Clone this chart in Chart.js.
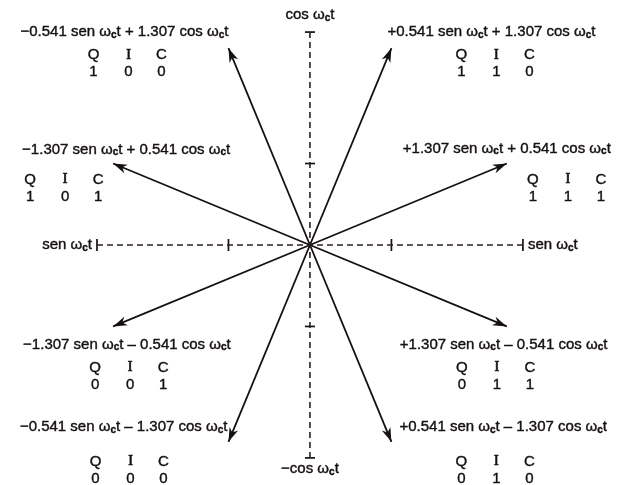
<!DOCTYPE html>
<html>
<head>
<meta charset="utf-8">
<script src="https://cdn.jsdelivr.net/npm/chart.js@4/dist/chart.umd.min.js"></script>
<style>
  html, body { margin: 0; padding: 0; background: #fff; }
  #wrap { width: 619px; height: 485px; }
</style>
</head>
<body>
<div id="wrap"><canvas id="phasorChart" width="619" height="485"></canvas></div>
<script>
// 8-PSK phasor values (sen = x, cos = y)
const senValues = [-0.541, 0.541, -1.307, 1.307, -1.307, 1.307, -0.541, 0.541];
const cosValues = [1.307, 1.307, 0.541, 0.541, -0.541, -0.541, -1.307, -1.307];
const qicCodes = ['100', '110', '101', '111', '001', '011', '000', '010'];
const phasorLabels = [
    '\u22120.541 sen \u03c9{c}t + 1.307 cos \u03c9{c}t',
    '+0.541 sen \u03c9{c}t + 1.307 cos \u03c9{c}t',
    '\u22121.307 sen \u03c9{c}t + 0.541 cos \u03c9{c}t',
    '+1.307 sen \u03c9{c}t + 0.541 cos \u03c9{c}t',
    '\u22121.307 sen \u03c9{c}t \u2013 0.541 cos \u03c9{c}t',
    '+1.307 sen \u03c9{c}t \u2013 0.541 cos \u03c9{c}t',
    '\u22120.541 sen \u03c9{c}t \u2013 1.307 cos \u03c9{c}t',
    '+0.541 sen \u03c9{c}t \u2013 1.307 cos \u03c9{c}t'
];
const axisTicks = [-1.414, -0.541, 0.541, 1.414];
const axisLabels = ['cos \u03c9{c}t', '\u2212cos \u03c9{c}t', 'sen \u03c9{c}t', 'sen \u03c9{c}t'];

// label layout, pixel offsets from each arrow tip
const labelLayout = [
    { dx: 0, dy: -16, align: 'right', qx: -100, qy: 7 },
    { dx: -4, dy: -16, align: 'left', qx: 105, qy: 7 },
    { dx: -91, dy: -14, align: 'left', qx: -48, qy: 16 },
    { dx: -104, dy: -15, align: 'left', qx: 61, qy: 16 },
    { dx: -90, dy: 18, align: 'left', qx: 17, qy: 41 },
    { dx: -107, dy: 18, align: 'left', qx: -10, qy: 41 },
    { dx: -1, dy: -15, align: 'right', qx: -98, qy: 20 },
    { dx: 8, dy: -15, align: 'left', qx: 105, qy: 20 }
];

const ink = '#161012';
const dashInk = '#2c1e20';
const fontFamily = '"Liberation Sans", Arial, sans-serif';

function heavyText(ctx, s, x, y) {
    ctx.fillText(s, x, y);
    ctx.strokeText(s, x, y);
}

function drawRich(ctx, text, x, y, align) {
    const parts = text.split(/\{|\}/);
    let total = 0;
    parts.forEach((p, i) => {
        ctx.font = (i % 2 ? 'bold 10px ' : '15px ') + fontFamily;
        total += ctx.measureText(p).width;
    });
    let cx = align === 'right' ? x - total : align === 'center' ? x - total / 2 : x;
    ctx.textAlign = 'left';
    ctx.textBaseline = 'middle';
    parts.forEach((p, i) => {
        const sub = i % 2 === 1;
        ctx.font = (sub ? 'bold 10px ' : '15px ') + fontFamily;
        heavyText(ctx, p, cx, sub ? y + 3 : y);
        cx += ctx.measureText(p).width;
    });
}

const annotationPlugin = {
    id: 'phasorAnnotations',
    afterDraw(chart) {
        const ctx = chart.ctx;
        const xs = chart.scales.x;
        const ys = chart.scales.y;
        const cx = xs.getPixelForValue(0);
        const cy = ys.getPixelForValue(0);
        ctx.save();
        ctx.fillStyle = ink;
        ctx.strokeStyle = ink;
        ctx.lineWidth = 0.4;

        senValues.forEach((s, i) => {
            const tx = xs.getPixelForValue(s);
            const ty = ys.getPixelForValue(cosValues[i]);
            // arrow head
            const ang = Math.atan2(ty - cy, tx - cx);
            const len = 14, half = 4.6;
            ctx.beginPath();
            ctx.moveTo(tx, ty);
            ctx.lineTo(tx - len * Math.cos(ang) + half * Math.sin(ang), ty - len * Math.sin(ang) - half * Math.cos(ang));
            ctx.lineTo(tx - 10 * Math.cos(ang), ty - 10 * Math.sin(ang));
            ctx.lineTo(tx - len * Math.cos(ang) - half * Math.sin(ang), ty - len * Math.sin(ang) + half * Math.cos(ang));
            ctx.closePath();
            ctx.fill();

            // labels
            const lay = labelLayout[i];
            drawRich(ctx, phasorLabels[i], tx + lay.dx, ty + lay.dy, lay.align);
            const ix = tx + lay.qx, iy = ty + lay.qy;
            ctx.textAlign = 'center';
            ctx.textBaseline = 'middle';
            ctx.font = '15px ' + fontFamily;
            heavyText(ctx, 'Q', ix - 35, iy);
            heavyText(ctx, 'C', ix + 33, iy);
            ctx.font = '14px "Liberation Serif", serif';
            ctx.lineWidth = 0.7;
            heavyText(ctx, 'I', ix, iy);
            ctx.lineWidth = 0.4;
            ctx.font = '15px ' + fontFamily;
            const code = qicCodes[i];
            heavyText(ctx, code[0], ix - 35, iy + 17);
            heavyText(ctx, code[1], ix, iy + 17);
            heavyText(ctx, code[2], ix + 33, iy + 17);
        });

        // axis labels
        const top = ys.getPixelForValue(axisTicks[3]);
        const bottom = ys.getPixelForValue(axisTicks[0]);
        const left = xs.getPixelForValue(axisTicks[0]);
        const right = xs.getPixelForValue(axisTicks[3]);
        drawRich(ctx, axisLabels[0], cx, top - 17, 'center');
        drawRich(ctx, axisLabels[1], cx, bottom + 11, 'center');
        drawRich(ctx, axisLabels[2], left - 5, cy, 'right');
        drawRich(ctx, axisLabels[3], right + 5, cy, 'left');
        ctx.restore();
    }
};

const arrowSets = senValues.map((s, i) => ({
    data: [{ x: 0, y: 0 }, { x: s, y: cosValues[i] }],
    showLine: true,
    borderColor: ink,
    borderWidth: 1.8,
    pointRadius: 0
}));

const ctx = document.getElementById('phasorChart').getContext('2d');
const phasorChart = new Chart(ctx, {
    type: 'scatter',
    data: {
        datasets: [{
            data: [{ x: axisTicks[0], y: 0 }, { x: axisTicks[3], y: 0 }],
            showLine: true,
            borderColor: dashInk,
            borderWidth: 1.6,
            borderDash: [6, 4],
            pointRadius: 0
        }, {
            data: [{ x: 0, y: axisTicks[0] }, { x: 0, y: axisTicks[3] }],
            showLine: true,
            borderColor: dashInk,
            borderWidth: 1.6,
            borderDash: [6, 4],
            pointRadius: 0
        }, {
            data: axisTicks.map(t => ({ x: t, y: 0 })),
            pointStyle: 'line',
            rotation: 90,
            pointRadius: 6,
            borderColor: ink,
            borderWidth: 1.7
        }, {
            data: axisTicks.map(t => ({ x: 0, y: t })),
            pointStyle: 'line',
            rotation: 0,
            pointRadius: 5,
            borderColor: ink,
            borderWidth: 1.7
        }].concat(arrowSets)
    },
    options: {
        responsive: false,
        animation: false,
        layout: { padding: 0, autoPadding: false },
        scales: {
            x: { type: 'linear', display: false, min: -2.058, max: 2.052 },
            y: { type: 'linear', display: false, min: -1.594, max: 1.627 }
        },
        plugins: {
            legend: { display: false },
            tooltip: { enabled: false }
        }
    },
    plugins: [annotationPlugin]
});
</script>
</body>
</html>
